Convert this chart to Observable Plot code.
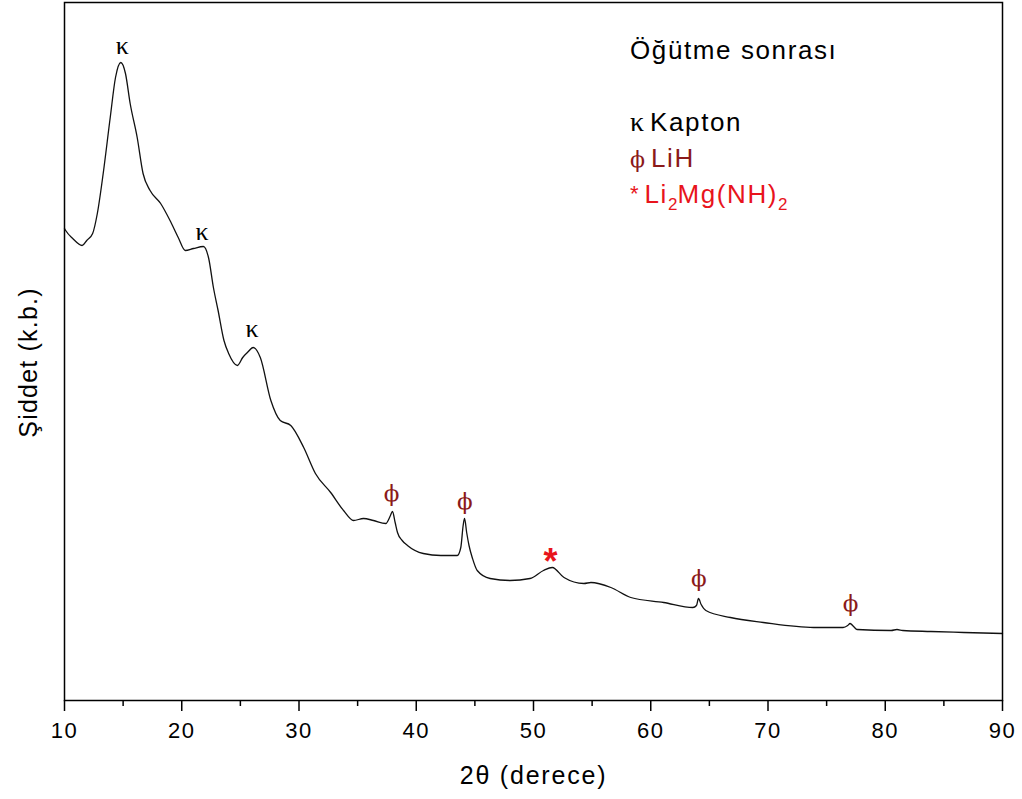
<!DOCTYPE html>
<html>
<head>
<meta charset="utf-8">
<script src="https://cdn.jsdelivr.net/npm/d3@7"></script>
<script src="https://cdn.jsdelivr.net/npm/@observablehq/plot@0.6"></script>
<style>
  body { margin: 0; background: #fff; }
  #wrap { position: relative; width: 1022px; height: 799px; font-family: "Liberation Sans", Arial, sans-serif; }
  .key { position: absolute; left: 630px; font-size: 26px; letter-spacing: 1.6px; line-height: 26px; white-space: nowrap; }
  .key .g { font-family: "Liberation Serif", "DejaVu Serif", serif; letter-spacing: 0; margin-right: 6px; }
  .key .kap { font-size: 28px; }
  .key .phi { font-family: "DejaVu Serif", serif; font-size: 22px; }
  .key .ast { font-family: "Liberation Sans", sans-serif; font-size: 22px; position: relative; top: -2px; }
  .key sub { font-size: 17px; vertical-align: -7px; line-height: 0; letter-spacing: 0; }
</style>
</head>
<body>
<div id="wrap">
  <div class="key" style="top:37px;">Öğütme sonrası</div>
  <div class="key" style="top:109px;color:#000;"><span class="g kap">κ</span>Kapton</div>
  <div class="key" style="top:145px;color:#8b1a1a;"><span class="g phi">ϕ</span>LiH</div>
  <div class="key" style="top:181px;color:#e8141c;"><span class="g ast">*</span>Li<sub>2</sub>Mg(NH)<sub>2</sub></div>
</div>
<script>
// XRD pattern after milling: diffraction angle 2θ (degrees) and intensity (arb. units)
const twoTheta = [10.0, 10.1, 10.7, 11.5, 11.9, 12.4, 12.8, 13.3, 13.9, 14.35, 14.8, 15.2, 15.6, 16.2, 16.7,
  17.3, 18.2, 19.0, 19.7, 20.3, 21.0, 21.85, 22.3, 22.7, 23.1, 23.6, 24.0, 24.75, 25.2, 25.6, 26.1, 26.7,
  27.6, 28.4, 29.3, 30.4, 31.4, 32.7, 33.8, 34.65, 35.5, 36.35, 37.4, 37.8, 37.97, 38.2, 38.4, 38.8, 39.25,
  40.6, 42.1, 43.5, 43.8, 44.0, 44.12, 44.3, 44.5, 44.8, 45.2, 46.3, 48.0, 49.7, 50.85, 51.6, 52.6, 54.3,
  54.9, 56.6, 58.3, 61.1, 63.6, 63.9, 64.07, 64.3, 64.7, 66.8, 69.6, 73.9, 76.4, 76.8, 77.0, 77.3, 77.6,
  80.5, 81.0, 81.5, 83.9, 86.7, 90.0];
const intensity = [472, 470, 462, 455, 460, 467, 487, 527, 583, 623, 638, 627, 597, 563, 527,
  510, 497, 480, 463, 450, 452, 454, 442, 413, 390, 360, 347, 335, 343, 348, 353, 343,
  300, 280, 275, 253, 227, 208, 190, 180, 182, 180, 177, 185, 189, 178, 168, 160, 155,
  147, 145, 145, 153, 175, 182, 168, 155, 142, 130, 122, 120, 122, 130, 133, 123, 117,
  118, 113, 103, 98, 93, 95, 102, 96, 90, 83, 78, 73, 73, 75, 77, 74, 71,
  70, 71, 70, 69, 68, 67];

// Reflection markers: phase symbol, position and height of the symbol
const peakAngles  = [14.93, 21.74, 26.0, 37.89, 44.14, 64.1, 77.04, 51.45];
const peakHeights = [655, 469, 372, 207, 199, 122, 97, 148];
const peakSymbols = ["κ", "κ", "κ", "ϕ", "ϕ", "ϕ", "ϕ", "*"];
const phaseNames  = ["Kapton", "Kapton", "Kapton", "LiH", "LiH", "LiH", "LiH", "Li2Mg(NH)2"];

const majorTicks = [10, 20, 30, 40, 50, 60, 70, 80, 90];
const minorTicks = [15, 25, 35, 45, 55, 65, 75, 85];

const xTitle = "2θ (derece)";
const yTitle = "Şiddet (k.b.)";

const pattern = twoTheta.map((a, i) => ({angle: a, counts: intensity[i]}));
const peaks = peakAngles.map((a, i) => ({angle: a, h: peakHeights[i], sym: peakSymbols[i], phase: phaseNames[i]}));

const chart = Plot.plot({
  width: 1022,
  height: 799,
  marginLeft: 64,
  marginRight: 20,
  marginTop: 2,
  marginBottom: 99,
  x: {domain: [10, 90], label: null},
  y: {domain: [0, 698], axis: null},
  style: {fontFamily: "Liberation Sans, Arial, sans-serif", fontSize: "22px", color: "#000", background: "#fff", letterSpacing: "1.5px"},
  marks: [
    Plot.line(pattern, {x: "angle", y: "counts", stroke: "#111", strokeWidth: 1.3, curve: "monotone-x"}),
    Plot.axisX({ticks: majorTicks, tickSize: 11, tickPadding: 11, tickFormat: d => String(d), strokeWidth: 1.5, label: null}),
    Plot.axisX({ticks: minorTicks, tickSize: 6, text: null, label: null, strokeWidth: 1.5}),
    Plot.frame({stroke: "#000", strokeWidth: 1.5}),
    Plot.text(peaks.filter(d => d.phase === "Kapton"), {x: "angle", y: "h", text: "sym", fill: "#000",
      fontFamily: "Liberation Serif, serif", fontSize: 26}),
    Plot.text(peaks.filter(d => d.phase === "LiH"), {x: "angle", y: "h", text: "sym", fill: "#8b1a1a",
      fontFamily: "DejaVu Serif, serif", fontSize: 23}),
    Plot.text(peaks.filter(d => d.phase === "Li2Mg(NH)2"), {x: "angle", y: "h", text: "sym", fill: "#e8141c",
      fontFamily: "Liberation Sans, sans-serif", fontSize: 36, fontWeight: "bold", dy: 10}),
    Plot.text([xTitle], {text: d => d, frameAnchor: "bottom", textAnchor: "middle", lineAnchor: "middle", dy: 75, fontSize: 25}),
    Plot.text([yTitle], {text: d => d, frameAnchor: "left", textAnchor: "middle", lineAnchor: "middle", dx: -36, dy: 11, rotate: -90, fontSize: 25})
  ]
});

// peak symbols are single glyphs: no tracking; axis titles use their own tracking
d3.select(chart).selectAll("text")
  .filter(function () { return peakSymbols.includes(this.textContent); })
  .style("letter-spacing", "0px");
d3.select(chart).selectAll("text")
  .filter(function () { return this.textContent === xTitle; })
  .style("letter-spacing", "1.8px");
d3.select(chart).selectAll("text")
  .filter(function () { return this.textContent === yTitle; })
  .style("letter-spacing", "1.2px");

document.getElementById("wrap").prepend(chart);
chart.style.position = "absolute";
chart.style.left = "0";
chart.style.top = "0";
</script>
</body>
</html>
